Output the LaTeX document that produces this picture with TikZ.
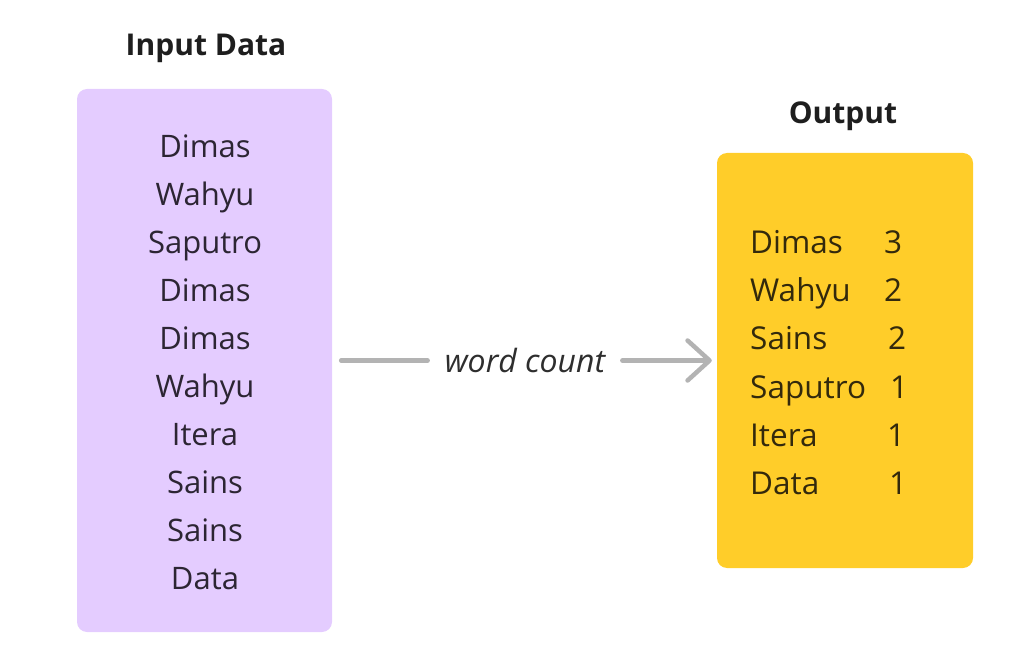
\documentclass[tikz,border=0pt]{standalone}
\usepackage{fontspec}
\setmainfont{Open Sans}
\usetikzlibrary{arrows.meta}
\definecolor{purplebox}{HTML}{E4CCFF}
\definecolor{yellowbox}{HTML}{FFCD29}
\definecolor{titlecol}{HTML}{1E1E1E}
\definecolor{intext}{HTML}{2C2533}
\definecolor{outtext}{HTML}{33290C}
\definecolor{conncol}{HTML}{B3B3B3}
\definecolor{labcol}{HTML}{2E2E2E}
\tikzset{
  boxpurple/.style={fill=purplebox, rounded corners=10pt, draw=none, minimum width=255pt, minimum height=543pt, inner sep=0pt},
  boxyellow/.style={fill=yellowbox, rounded corners=10pt, draw=none, minimum width=256pt, minimum height=415pt, inner sep=0pt},
  titletext/.style={font=\fontsize{30}{36}\selectfont\bfseries, text=titlecol, inner sep=0pt},
  itemtext/.style={font=\fontsize{31}{48}\selectfont, text=intext, align=center, inner sep=0pt},
  outtxt/.style={font=\fontsize{31.5}{36}\selectfont, text=outtext, inner sep=0pt},
  conn/.style={draw=conncol, line width=4.5pt, line cap=round, line join=round},
  lab/.style={font=\fontsize{32}{38}\selectfont\itshape, text=labcol, inner sep=0pt}
}
\begin{document}
\begin{tikzpicture}[x=1pt,y=-1pt]
\useasboundingbox (0,0) rectangle (1031,668);
\node[boxpurple] (in) at (204.5,360.5) {};
\node[boxyellow] (out) at (845,360.5) {};
\node[titletext] (intitle) at (206,48) {Input Data};
\node[titletext] (outtitle) at (843,116) {Output};
\node[itemtext] (items) at (205,362) {Dimas\\Wahyu\\Saputro\\Dimas\\Dimas\\Wahyu\\Itera\\Sains\\Sains\\Data};
\foreach \n/\name/\num/\nx [count=\i] in {a/Dimas/3/893,b/Wahyu/2/893,c/Sains/2/897,d/Saputro/1/899,e/Itera/1/896,f/Data/1/898}{
  \node[outtxt, anchor=base west] (name\n) at (750,{242+48*(\i-1)+12}) {\name};
  \node[outtxt, anchor=base] (num\n) at (\nx,{242+48*(\i-1)+12}) {\num};
}
\node[lab] (wc) at (525,360.5) {word count};
\draw[conn, shorten <=9pt, shorten >=17pt] (in.east) -- (wc.west);
\draw[conn, shorten <=17pt, shorten >=5pt, -{Straight Barb[length=22pt,width=40pt,line cap=round,line join=round]}] (wc.east) -- (out.west);
\end{tikzpicture}
\end{document}
